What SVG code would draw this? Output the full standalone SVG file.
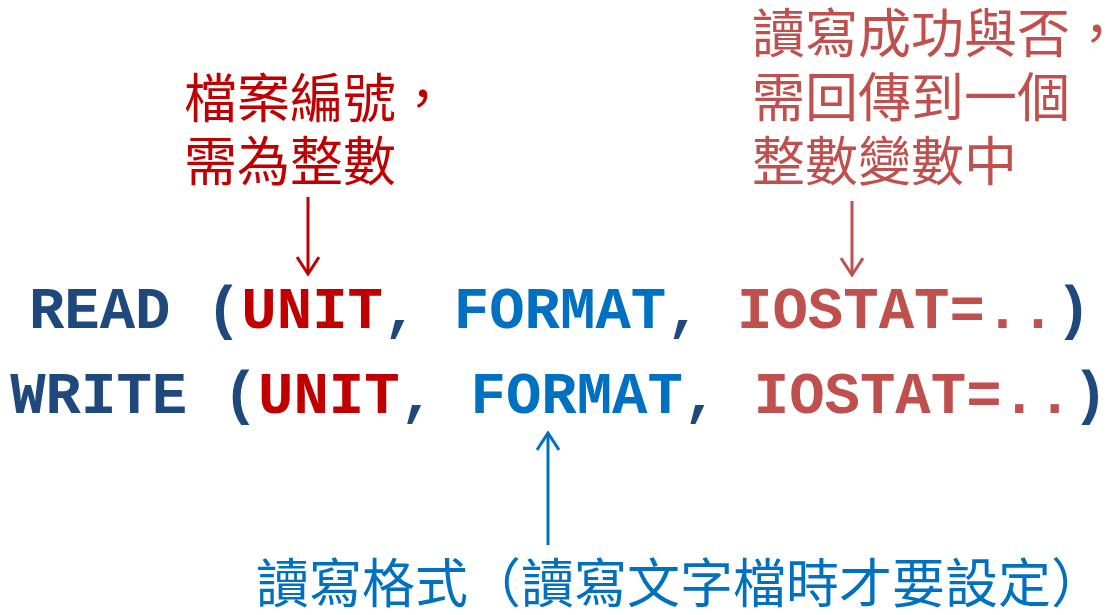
<svg xmlns="http://www.w3.org/2000/svg" width="1107" height="615" viewBox="0 0 1107 615">
<defs>
<style>
.code{font-family:"Courier New","Nimbus Mono PS","Nimbus Mono L","FreeMono","Liberation Mono",monospace;font-weight:bold;font-size:59px;white-space:pre;text-anchor:middle}
.kw{fill:#1F497D}.u{fill:#C00000}.f{fill:#0070C0}.io{fill:#C0504D}
.cjk{font-family:"Noto Sans CJK TC","Noto Sans CJK SC",sans-serif;font-size:53px}
.conn{fill:none;stroke-width:3}
</style>
<marker id="ahRed" viewBox="0 0 20 24" refX="18" refY="12" markerWidth="20" markerHeight="24" markerUnits="userSpaceOnUse" orient="auto"><path d="M1,1 L18,12 L1,23" fill="none" stroke="#C00000" stroke-width="3"/></marker>
<marker id="ahLR" viewBox="0 0 20 24" refX="18" refY="12" markerWidth="20" markerHeight="24" markerUnits="userSpaceOnUse" orient="auto"><path d="M1,1 L18,12 L1,23" fill="none" stroke="#C0504D" stroke-width="3"/></marker>
<marker id="ahBlue" viewBox="0 0 20 24" refX="18" refY="12" markerWidth="20" markerHeight="24" markerUnits="userSpaceOnUse" orient="auto"><path d="M1,1 L18,12 L1,23" fill="none" stroke="#0070C0" stroke-width="3"/></marker>
</defs>
<rect width="1107" height="615" fill="#FFFFFF"/>
<g id="read-line"><text class="code" x="560" y="328"><tspan class="kw">READ (</tspan><tspan class="u">UNIT</tspan><tspan class="kw">, </tspan><tspan class="f">FORMAT</tspan><tspan class="kw">, </tspan><tspan class="io">IOSTAT=..</tspan><tspan class="kw">)</tspan></text></g>
<g id="write-line"><text class="code" x="559" y="413"><tspan class="kw">WRITE (</tspan><tspan class="u">UNIT</tspan><tspan class="kw">, </tspan><tspan class="f">FORMAT</tspan><tspan class="kw">, </tspan><tspan class="io">IOSTAT=..</tspan><tspan class="kw">)</tspan></text></g>
<g id="label-unit" class="cjk" fill="#C00000"><text x="184" y="118">檔案編號，</text><text x="184" y="181">需為整數</text></g>
<g id="label-iostat" class="cjk" fill="#C0504D"><text x="752" y="53">讀寫成功與否，</text><text x="752" y="117">需回傳到一個</text><text x="752" y="181">整數變數中</text></g>
<g id="label-format" class="cjk" fill="#0070C0"><text x="256" y="603">讀寫格式（讀寫文字檔時才要設定）</text></g>
<g id="connectors">
<line class="conn" x1="308" y1="197" x2="308" y2="274" stroke="#C00000" marker-end="url(#ahRed)"/>
<line class="conn" x1="852" y1="201" x2="852" y2="275" stroke="#C0504D" marker-end="url(#ahLR)"/>
<line class="conn" x1="548" y1="545" x2="548" y2="433" stroke="#0070C0" marker-end="url(#ahBlue)"/>
</g>
</svg>
